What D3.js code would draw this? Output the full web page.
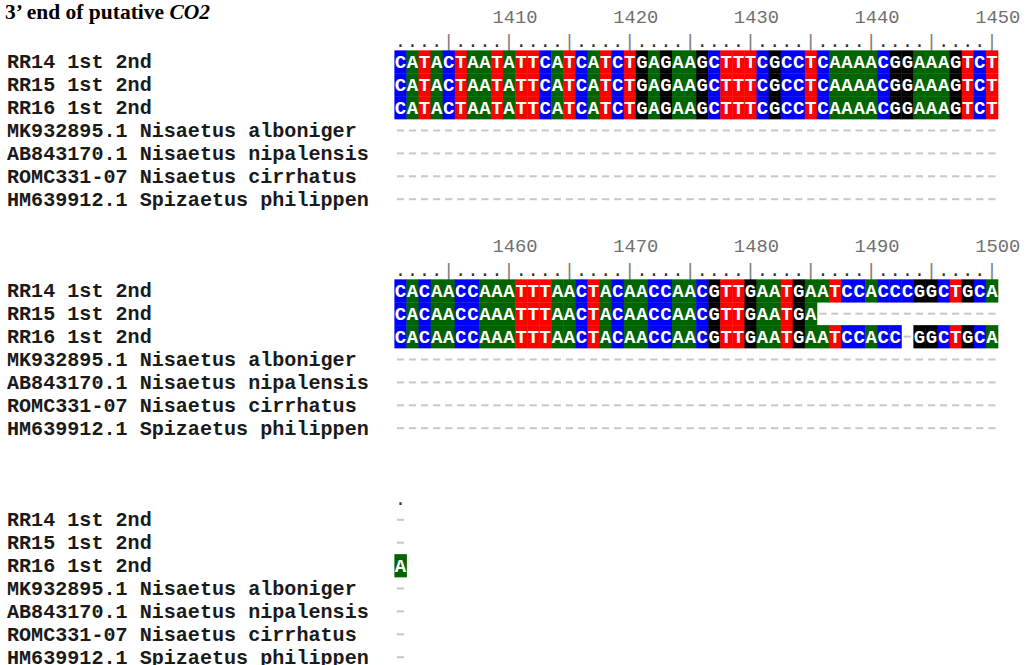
<!DOCTYPE html>
<html>
<head>
<meta charset="utf-8">
<script src="https://cdn.jsdelivr.net/npm/d3@7"></script>
<style>
  html, body { margin: 0; padding: 0; background: #fff; }
  svg { display: block; }
</style>
</head>
<body>
<svg id="chart" width="1026" height="665"></svg>
<script>
// ---- data ----
const titleMain = "3\u2019 end of putative ";
const titleItalic = "CO2";
const startPos = 1401;
const blockLen = 50;
const tickLabels = [1410, 1420, 1430, 1440, 1450, 1460, 1470, 1480, 1490, 1500];
const names = [
  "RR14 1st 2nd",
  "RR15 1st 2nd",
  "RR16 1st 2nd",
  "MK932895.1 Nisaetus alboniger",
  "AB843170.1 Nisaetus nipalensis",
  "ROMC331-07 Nisaetus cirrhatus",
  "HM639912.1 Spizaetus philippen"
];
const seqRR14 = [
  "CATACTAATATTCATCATCTGAGAAGCTTTCGCCTCAAAACGGAAAGTCT",
  "CACAACCAAATTTAACTACAACCAACGTTGAATGAATCCACCCGGCTGCA",
  "-"
];
const seqRR15 = [
  "CATACTAATATTCATCATCTGAGAAGCTTTCGCCTCAAAACGGAAAGTCT",
  "CACAACCAAATTTAACTACAACCAACGTTGAATGA---------------",
  "-"
];
const seqRR16 = [
  "CATACTAATATTCATCATCTGAGAAGCTTTCGCCTCAAAACGGAAAGTCT",
  "CACAACCAAATTTAACTACAACCAACGTTGAATGAATCCACC-GGCTGCA",
  "A"
];
const seqMK = [
  "--------------------------------------------------",
  "--------------------------------------------------",
  "-"
];
const seqAB = [
  "--------------------------------------------------",
  "--------------------------------------------------",
  "-"
];
const seqROMC = [
  "--------------------------------------------------",
  "--------------------------------------------------",
  "-"
];
const seqHM = [
  "--------------------------------------------------",
  "--------------------------------------------------",
  "-"
];
const sequences = [seqRR14, seqRR15, seqRR16, seqMK, seqAB, seqROMC, seqHM];
const baseColors = { A: "#006400", C: "#0000ff", G: "#000000", T: "#ff0000" };

// ---- layout ----
const svg = d3.select("#chart");
const lineH = 22.9;
const yLine = d3.scaleLinear().domain([0, 1]).range([16, 16 + lineH]);
const x = d3.scaleBand().domain(d3.range(blockLen)).range([394.4, 394.4 + blockLen * 12.07]).padding(0);
const bw = x.bandwidth();
const mono = "'Liberation Mono', 'Courier New', monospace";

// title
const title = svg.append("text")
  .attr("x", 5).attr("y", 19)
  .attr("font-family", "'Liberation Serif', 'Times New Roman', serif")
  .attr("font-weight", "bold").attr("font-size", 21.5).attr("fill", "#000");
title.append("tspan").text(titleMain);
title.append("tspan").attr("font-style", "italic").text(titleItalic);

const nBlocks = 3;
for (let b = 0; b < nBlocks; b++) {
  const base = b * 10;
  const g = svg.append("g");
  const len = sequences[0][b].length;
  const blockStart = startPos + b * blockLen;

  // number labels
  const labs = tickLabels.filter(t => t >= blockStart && t < blockStart + len);
  g.selectAll("text.num").data(labs).join("text")
    .attr("class", "num")
    .attr("x", t => x(t - blockStart - 1) + 1.5)
    .attr("y", yLine(base) + 7)
    .attr("font-family", mono).attr("font-size", 18.8).attr("fill", "#707070")
    .text(t => t);

  // ruler
  const cols = d3.range(len);
  const rulerY = yLine(base + 1);
  g.selectAll("text.rul").data(cols).join("text")
    .attr("class", "rul")
    .attr("x", i => x(i) + bw / 2)
    .attr("y", rulerY + 8)
    .attr("text-anchor", "middle")
    .attr("font-family", mono).attr("font-size", 19)
    .attr("fill", i => ((blockStart + i) % 5 === 0) ? "#808080" : "#333")
    .text(i => ((blockStart + i) % 5 === 0) ? "|" : ".");

  // rows
  names.forEach((name, r) => {
    const cy = yLine(base + 2 + r);
    g.append("text")
      .attr("x", 7).attr("y", cy + 6.5)
      .attr("font-family", mono).attr("font-weight", "bold")
      .attr("font-size", 20.1).attr("fill", "#1a1a1a")
      .text(name);

    const chars = sequences[r][b].split("").map((c, i) => ({ c, i }));
    const bases = chars.filter(d => d.c !== "-");
    const gaps = chars.filter(d => d.c === "-");

    g.selectAll(null).data(bases).join("rect")
      .attr("x", d => x(d.i))
      .attr("y", cy - lineH / 2)
      .attr("width", bw + 0.4)
      .attr("height", lineH + 0.3)
      .attr("fill", d => baseColors[d.c]);

    g.selectAll(null).data(bases).join("text")
      .attr("x", d => x(d.i) + bw / 2)
      .attr("y", cy + 6.5)
      .attr("text-anchor", "middle")
      .attr("font-family", mono).attr("font-weight", "bold")
      .attr("font-size", 19).attr("fill", "#fff")
      .text(d => d.c);

    g.selectAll(null).data(gaps).join("rect")
      .attr("x", d => x(d.i) + bw / 2 - 3.6)
      .attr("y", cy - 1)
      .attr("width", 7.2)
      .attr("height", 2)
      .attr("fill", "#c8c8c8");
  });
}
</script>
</body>
</html>
